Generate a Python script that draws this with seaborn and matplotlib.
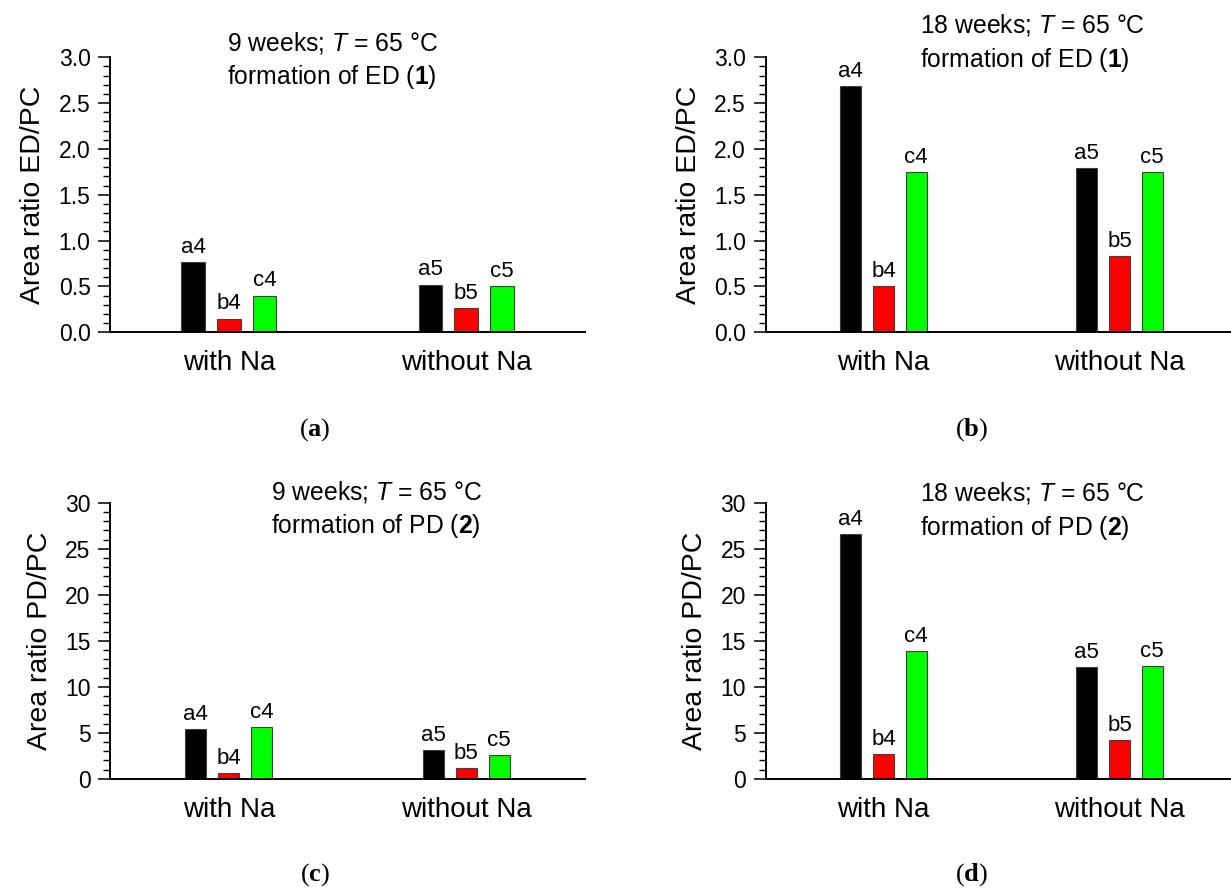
import matplotlib
matplotlib.use("Agg")
import matplotlib.pyplot as plt
from matplotlib.ticker import AutoMinorLocator, MultipleLocator, FormatStrFormatter
import pandas as pd
import seaborn as sns

# ---- data ----
groups = ["with Na", "without Na"]
samples = ["a", "b", "c"]
suffix = {"with Na": "4", "without Na": "5"}

ed_9w_with = [0.77, 0.15, 0.40]
ed_9w_without = [0.52, 0.26, 0.50]
ed_18w_with = [2.69, 0.505, 1.745]
ed_18w_without = [1.79, 0.83, 1.75]
pd_9w_with = [5.36, 0.60, 5.60]
pd_9w_without = [3.08, 1.12, 2.57]
pd_18w_with = [26.56, 2.64, 13.91]
pd_18w_without = [12.14, 4.20, 12.28]

bar_colors = ["#000000", "#ff0000", "#00ff00"]

sns.set_style("ticks")
plt.rcParams["font.family"] = ["Liberation Sans", "DejaVu Sans"]
plt.rcParams["mathtext.fontset"] = "custom"
plt.rcParams["mathtext.it"] = "Liberation Sans:italic"
plt.rcParams["mathtext.sf"] = "Liberation Sans:bold"
plt.rcParams["mathtext.bf"] = "Liberation Serif:bold"
for key in ("text.color", "axes.labelcolor", "xtick.color", "ytick.color",
            "axes.edgecolor"):
    plt.rcParams[key] = "black"

W, H = 1231, 888
fig = plt.figure(figsize=(W / 100, H / 100), dpi=100)
fig.patch.set_facecolor("white")


def frame(df_with, df_without):
    rows = []
    for g, vals in (("with Na", df_with), ("without Na", df_without)):
        for s, v in zip(samples, vals):
            rows.append({"group": g, "sample": s, "value": v})
    return pd.DataFrame(rows)


def px_axes(left, right, top, bottom):
    return fig.add_axes([left / W, 1 - bottom / H, (right - left) / W, (bottom - top) / H])


def panel(ax, vals_with, vals_without, ymax, major, fmt, ylabel, width, gap,
          line1, line2, tx, ty1, ty2, letter, lx, ly):
    df = frame(vals_with, vals_without)
    sns.barplot(data=df, x="group", y="value", hue="sample", order=groups,
                hue_order=samples, palette=bar_colors, saturation=1,
                width=width, gap=gap, edgecolor="#404040", linewidth=0.8,
                legend=False, ax=ax, errorbar=None)
    for s, cont in zip(samples, ax.containers):
        ax.bar_label(cont, labels=[s + suffix[g] for g in groups], padding=3,
                     fontsize=16)
    ax.set_xlim(-0.5, 1.5)
    ax.set_ylim(0, ymax)
    ax.yaxis.set_major_locator(MultipleLocator(major))
    ax.yaxis.set_minor_locator(AutoMinorLocator(5))
    ax.yaxis.set_major_formatter(FormatStrFormatter(fmt))
    ax.set_xlabel("")
    ax.set_ylabel(ylabel, fontsize=20.5, labelpad=9)
    ax.tick_params(axis="y", which="major", length=8.5, width=1.1, labelsize=16.5,
                   pad=5.5, direction="out")
    ax.tick_params(axis="y", which="minor", length=5, width=1.0, direction="out")
    ax.tick_params(axis="x", length=0, labelsize=20, pad=13)
    sns.despine(ax=ax)
    for sp in ("left", "bottom"):
        ax.spines[sp].set_linewidth(1.4)
    ax.set_facecolor("white")
    ax.grid(False)
    fig.text(tx / W, 1 - ty1 / H, line1, fontsize=17.8, ha="left", va="center")
    fig.text(tx / W, 1 - ty2 / H, line2, fontsize=17.8, ha="left", va="center")
    fig.text(lx / W, 1 - ly / H, "(" + r"$\mathbf{" + letter + "}$" + ")",
             fontsize=19, ha="center", va="center",
             family=["Liberation Serif", "DejaVu Serif"])


ax_a = px_axes(110, 585, 57.3, 332.3)
panel(ax_a, ed_9w_with, ed_9w_without, 3.0, 0.5, "%.1f", "Area ratio ED/PC",
      0.45, 0.34, r"9 weeks; $\mathit{T}$ = 65 °C", r"formation of ED ($\mathsf{1}$)",
      227, 43.3, 76.7, "a", 315, 430)

ax_b = px_axes(765.5, 1237.5, 57.3, 332.3)
panel(ax_b, ed_18w_with, ed_18w_without, 3.0, 0.5, "%.1f", "Area ratio ED/PC",
      0.417, 0.367, r"18 weeks; $\mathit{T}$ = 65 °C", r"formation of ED ($\mathsf{1}$)",
      919.7, 25, 60, "b", 972, 430)

ax_c = px_axes(110, 585, 502.7, 778.7)
panel(ax_c, pd_9w_with, pd_9w_without, 30, 5, "%d", "Area ratio PD/PC",
      0.417, 0.367, r"9 weeks; $\mathit{T}$ = 65 °C", r"formation of PD ($\mathsf{2}$)",
      271, 491.7, 526, "c", 315, 875)

ax_d = px_axes(765.5, 1237.5, 502.7, 778.7)
panel(ax_d, pd_18w_with, pd_18w_without, 30, 5, "%d", "Area ratio PD/PC",
      0.417, 0.367, r"18 weeks; $\mathit{T}$ = 65 °C", r"formation of PD ($\mathsf{2}$)",
      919.7, 493.3, 528.3, "d", 972, 875)

fig.savefig("out.png", dpi=100, facecolor="white")
